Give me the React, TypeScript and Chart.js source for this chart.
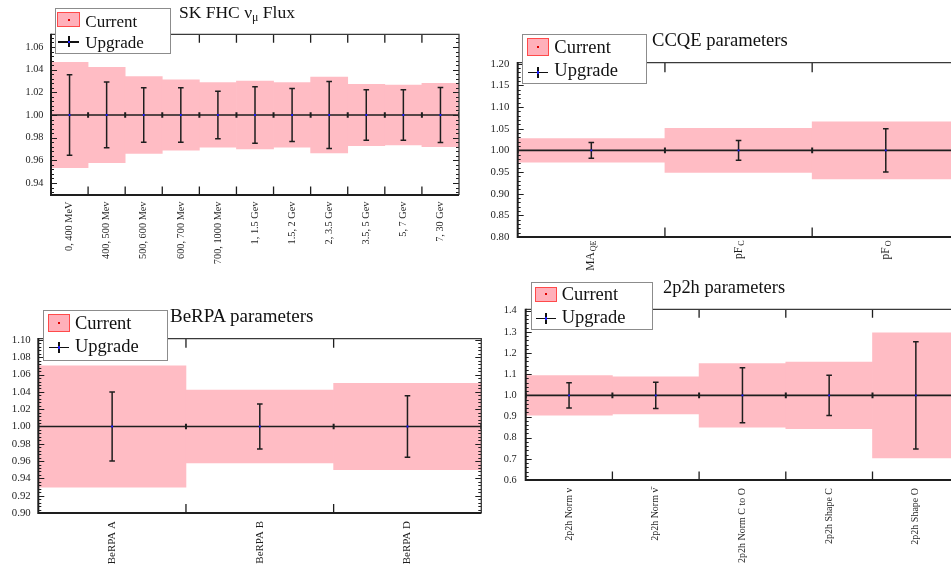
import React, { useEffect, useRef } from "react";
import { Chart, registerables } from "chart.js";

Chart.register(...registerables);

const FONT = "'Liberation Serif', 'Times New Roman', serif";
const PINK = "#ffbcc4";
const INK = "#1e1e1e";
const BLUE = "#1a1aff";

// ---- SK FHC numu flux ----
const fluxLabels = ["0, 400 MeV", "400, 500 Mev", "500, 600 Mev", "600, 700 Mev", "700, 1000 Mev", "1, 1.5 Gev", "1.5, 2 Gev", "2, 3.5 Gev", "3.5, 5 Gev", "5, 7 Gev", "7, 30 Gev"];
const fluxNominal = [1, 1, 1, 1, 1, 1, 1, 1, 1, 1, 1];
const fluxCurrent = [0.0465, 0.042, 0.034, 0.031, 0.0285, 0.030, 0.0285, 0.0335, 0.027, 0.0265, 0.028];
const fluxUpgrade = [0.0355, 0.029, 0.024, 0.024, 0.021, 0.025, 0.0233, 0.0295, 0.0222, 0.0222, 0.0243];

// ---- CCQE ----
const ccqeLabels = ["MA", "pF", "pF"];
const ccqeSubs = ["QE", "C", "O"];
const ccqeNominal = [1, 1, 1];
const ccqeCurrent = [0.027, 0.051, 0.066];
const ccqeUpgrade = [0.018, 0.023, 0.05];

// ---- BeRPA ----
const berpaLabels = ["BeRPA A", "BeRPA B", "BeRPA D"];
const berpaNominal = [1, 1, 1];
const berpaCurrent = [0.07, 0.042, 0.05];
const berpaUpgrade = [0.04, 0.026, 0.0355];

// ---- 2p2h ----
const npnhLabels = ["2p2h Norm \u03bd", "2p2h Norm \u03bd\u0304", "2p2h Norm C to O", "2p2h Shape C", "2p2h Shape O"];
const npnhNominal = [1, 1, 1, 1, 1];
const npnhCurrent = [0.094, 0.088, 0.15, 0.157, 0.296];
const npnhUpgrade = [0.06, 0.062, 0.13, 0.095, 0.253];

type Layout = {
  box: [number, number, number, number];
  area: [number, number, number, number];
  yRange: [number, number];
  yStep: number;
  yMinor: number;
  yDec: number;
  yFont: number;
  yPad: number;
  xFont: number;
  xPad: number;
  xTick: number;
};

const L1: Layout = { box: [0, 0, 470, 275], area: [51, 34.3, 459, 195], yRange: [0.9294, 1.0712], yStep: 0.02, yMinor: 5, yDec: 2, yFont: 10.3, yPad: 7.5, xFont: 10.3, xPad: 6.5, xTick: 8.5 };
const L2: Layout = { box: [470, 20, 500, 260], area: [517.7, 62.7, 959.4, 237], yRange: [0.8, 1.2023], yStep: 0.05, yMinor: 5, yDec: 2, yFont: 10.8, yPad: 8.3, xFont: 11.5, xPad: 3.5, xTick: 9.5 };
const L3: Layout = { box: [0, 295, 490, 277], area: [38.3, 338.7, 481.3, 513], yRange: [0.9, 1.1015], yStep: 0.02, yMinor: 5, yDec: 2, yFont: 10.8, yPad: 7.6, xFont: 11, xPad: 8, xTick: 9 };
const L4: Layout = { box: [480, 275, 490, 297], area: [525.7, 309.3, 959.2, 480], yRange: [0.6, 1.4066], yStep: 0.1, yMinor: 5, yDec: 1, yFont: 10.3, yPad: 9, xFont: 10, xPad: 8, xTick: 8.5 };

type PanelProps = {
  layout: Layout;
  labels: string[];
  subs?: string[];
  nominal: number[];
  current: number[];
  upgrade: number[];
};

function Panel({ layout, labels, subs, nominal, current, upgrade }: PanelProps) {
  const ref = useRef<HTMLCanvasElement>(null);
  useEffect(() => {
    if (!ref.current) return;
    const [bl, bt, bw, bh] = layout.box;
    const [L, T, R, B] = layout.area;
    const n = labels.length;
    const centers = labels.map((_, i) => i + 0.5);
    const edges = Array.from({ length: n + 1 }, (_, i) => i);

    const framePlugin = {
      id: "rootFrame",
      afterDatasetsDraw(chart: any) {
        const ctx = chart.ctx as CanvasRenderingContext2D;
        const a = chart.chartArea;
        const ys = chart.scales.y;
        const xs = chart.scales.x;
        ctx.save();
        ctx.strokeStyle = INK;
        ctx.lineWidth = 1;
        const [ymin, ymax] = layout.yRange;
        const minorStep = layout.yStep / layout.yMinor;
        const k0 = Math.ceil(ymin / minorStep - 1e-6);
        const k1 = Math.floor(ymax / minorStep + 1e-6);
        for (let k = k0; k <= k1; k++) {
          const py = Math.round(ys.getPixelForValue(k * minorStep)) + 0.5;
          const len = k % layout.yMinor === 0 ? 6 : 3;
          ctx.beginPath();
          ctx.moveTo(a.left, py);
          ctx.lineTo(a.left + len, py);
          ctx.moveTo(a.right, py);
          ctx.lineTo(a.right - len, py);
          ctx.stroke();
        }
        ctx.lineWidth = 1.3;
        for (const e of edges.slice(1, -1)) {
          const px = xs.getPixelForValue(e);
          ctx.beginPath();
          ctx.moveTo(px, a.bottom);
          ctx.lineTo(px, a.bottom - layout.xTick);
          ctx.moveTo(px, a.top);
          ctx.lineTo(px, a.top + layout.xTick);
          ctx.stroke();
        }
        ctx.strokeStyle = "#3a3a3a";
        ctx.lineWidth = 1.3;
        ctx.beginPath();
        ctx.moveTo(a.left, a.top);
        ctx.lineTo(a.right, a.top);
        ctx.lineTo(a.right, a.bottom);
        ctx.stroke();
        ctx.strokeStyle = INK;
        ctx.lineWidth = 2;
        ctx.beginPath();
        ctx.moveTo(a.left, a.top - 0.6);
        ctx.lineTo(a.left, a.bottom);
        ctx.lineTo(a.right, a.bottom);
        ctx.stroke();
        ctx.restore();
      },
      afterDraw(chart: any) {
        if (!subs) return;
        const ctx = chart.ctx as CanvasRenderingContext2D;
        const a = chart.chartArea;
        const xs = chart.scales.x;
        ctx.save();
        ctx.fillStyle = INK;
        const mainFont = `${layout.xFont}px ${FONT}`;
        const subFont = `${layout.xFont * 0.7}px ${FONT}`;
        centers.forEach((c, i) => {
          const px = xs.getPixelForValue(c);
          ctx.save();
          ctx.translate(px, a.bottom + layout.xPad);
          ctx.rotate(-Math.PI / 2);
          ctx.textAlign = "right";
          ctx.textBaseline = "middle";
          ctx.font = subFont;
          const ws = ctx.measureText(subs[i]).width + 1;
          ctx.fillText(subs[i], 0, 3);
          ctx.font = mainFont;
          ctx.fillText(labels[i], -ws, 0);
          ctx.restore();
        });
        ctx.restore();
      },
    };

    const chart = new Chart(ref.current, {
      type: "bar",
      data: {
        datasets: [
          {
            type: "bar",
            label: "Current",
            data: centers.map((c, i) => ({ x: c, y: [nominal[i] - current[i], nominal[i] + current[i]] })) as any,
            backgroundColor: PINK,
            borderWidth: 0,
            barPercentage: 1,
            categoryPercentage: 1,
            order: 5,
          } as any,
          {
            type: "line",
            label: "nominal",
            data: nominal.flatMap((v, i) => [{ x: i, y: v }, { x: i + 1, y: v }]),
            borderColor: INK,
            borderWidth: 1.6,
            pointRadius: 0,
            order: 4,
          },
          {
            type: "line",
            label: "Upgrade",
            data: centers.flatMap((c, i) => [
              { x: c, y: nominal[i] - upgrade[i] },
              { x: c, y: nominal[i] + upgrade[i] },
              { x: c, y: null },
            ]) as any,
            spanGaps: false,
            borderColor: INK,
            borderWidth: 1.5,
            pointStyle: "line",
            pointRadius: 2.8,
            pointBorderColor: INK,
            pointBorderWidth: 1.5,
            order: 3,
          },
          {
            type: "scatter",
            label: "edges",
            data: edges.map((e) => ({ x: e, y: nominal[Math.min(e, n - 1)] })),
            pointStyle: "line",
            rotation: 90,
            pointRadius: 2.8,
            borderColor: INK,
            pointBorderColor: INK,
            pointBorderWidth: 2,
            order: 2,
          } as any,
          {
            type: "scatter",
            label: "markers",
            data: centers.map((c, i) => ({ x: c, y: nominal[i] })),
            pointStyle: "rect",
            pointRadius: 1.3,
            pointBackgroundColor: BLUE,
            pointBorderColor: BLUE,
            pointBorderWidth: 0,
            order: 1,
          } as any,
        ],
      },
      options: {
        responsive: false,
        animation: false,
        events: [],
        layout: { padding: { left: 0, top: T - bt, right: bl + bw - R, bottom: 0 } },
        plugins: { legend: { display: false }, title: { display: false }, tooltip: { enabled: false } },
        scales: {
          x: {
            type: "linear",
            min: 0,
            max: n,
            offset: false,
            grid: { display: false, drawTicks: false, tickLength: 0 },
            border: { display: false },
            afterBuildTicks: (s: any) => {
              s.ticks = centers.map((v) => ({ value: v }));
            },
            afterFit: (s: any) => {
              s.height = bt + bh - B;
            },
            ticks: {
              display: !subs,
              autoSkip: false,
              minRotation: 90,
              maxRotation: 90,
              padding: layout.xPad,
              color: INK,
              font: { family: FONT, size: layout.xFont },
              callback: (_v: any, i: number) => labels[i],
            },
          } as any,
          y: {
            type: "linear",
            min: layout.yRange[0],
            max: layout.yRange[1],
            beginAtZero: false,
            grid: { display: false, drawTicks: false, tickLength: 0 },
            border: { display: false },
            afterFit: (s: any) => {
              s.width = L - bl;
            },
            ticks: {
              stepSize: layout.yStep,
              includeBounds: false,
              autoSkip: false,
              padding: layout.yPad,
              color: INK,
              font: { family: FONT, size: layout.yFont },
              callback: (v: any) => Number(v).toFixed(layout.yDec),
            },
          } as any,
        },
      },
      plugins: [framePlugin],
    });
    return () => chart.destroy();
  }, []);
  const [bl, bt, bw, bh] = layout.box;
  return <canvas ref={ref} width={bw} height={bh} style={{ position: "absolute", left: bl, top: bt }} />;
}

type LegendCfg = {
  box: [number, number, number, number];
  fs: number;
  iconX: number;
  iconY: number;
  iconW: number;
  iconH: number;
  textX: number;
  base1: number;
  base2: number;
  lineY: number;
};

function Legend({ c }: { c: LegendCfg }) {
  const [x, y, w, h] = c.box;
  const top = (b: number) => b - 0.84 * c.fs;
  const cx = c.iconX + c.iconW / 2;
  const text: React.CSSProperties = { position: "absolute", left: c.textX, fontFamily: FONT, fontSize: c.fs, lineHeight: `${c.fs}px`, color: "#111", whiteSpace: "nowrap" };
  return (
    <div style={{ position: "absolute", left: x, top: y, width: w, height: h, border: "1px solid #8c8c8c", background: "#fff", boxSizing: "border-box" }}>
      <div style={{ position: "absolute", left: c.iconX - 1, top: c.iconY - 1, width: c.iconW, height: c.iconH, background: "#ffb0ba", border: "1.3px solid #ff4a4a", boxSizing: "border-box" }} />
      <div style={{ position: "absolute", left: cx - 2, top: c.iconY - 1 + c.iconH / 2 - 1, width: 2, height: 2, background: "#e00000" }} />
      <div style={{ ...text, top: top(c.base1) - 1 }}>Current</div>
      <div style={{ position: "absolute", left: c.iconX, top: c.lineY - 1.75, width: c.iconW - 2, height: 1.5, background: "#111" }} />
      <div style={{ position: "absolute", left: cx - 1.75, top: c.lineY - 6.5, width: 1.5, height: 11, background: "#111" }} />
      <div style={{ position: "absolute", left: cx - 2.25, top: c.lineY - 2.25, width: 2.5, height: 2.5, background: BLUE }} />
      <div style={{ ...text, top: top(c.base2) - 1 }}>Upgrade</div>
    </div>
  );
}

const legend1: LegendCfg = { box: [55, 8.3, 116, 46], fs: 17, iconX: 2.3, iconY: 3.7, iconW: 23, iconH: 15.5, textX: 29.3, base1: 18.5, base2: 40, lineY: 33.5 };
const legend2: LegendCfg = { box: [522.3, 34.3, 125, 50], fs: 18.5, iconX: 4.4, iconY: 4, iconW: 22.6, iconH: 17.4, textX: 31, base1: 19, base2: 42.4, lineY: 38 };
const legend3: LegendCfg = { box: [43.3, 310, 125, 50.7], fs: 18.5, iconX: 4.4, iconY: 4.3, iconW: 22.3, iconH: 17.4, textX: 30.7, base1: 20, base2: 42.7, lineY: 37.7 };
const legend4: LegendCfg = { box: [530.7, 282.3, 122, 47.7], fs: 18.5, iconX: 4.3, iconY: 4.4, iconW: 22.3, iconH: 15.6, textX: 30, base1: 18.7, base2: 41, lineY: 36 };

function Title({ x, baseline, fs, children }: { x: number; baseline: number; fs: number; children: React.ReactNode }) {
  return (
    <div style={{ position: "absolute", left: x, top: baseline - 0.84 * fs, fontFamily: FONT, fontSize: fs, lineHeight: `${fs}px`, color: "#111", whiteSpace: "nowrap" }}>
      {children}
    </div>
  );
}

export default function App() {
  return (
    <div style={{ position: "absolute", left: 0, top: 0, width: 951, height: 572, overflow: "hidden", background: "#fff" }}>
      <Panel layout={L1} labels={fluxLabels} nominal={fluxNominal} current={fluxCurrent} upgrade={fluxUpgrade} />
      <Panel layout={L2} labels={ccqeLabels} subs={ccqeSubs} nominal={ccqeNominal} current={ccqeCurrent} upgrade={ccqeUpgrade} />
      <Panel layout={L3} labels={berpaLabels} nominal={berpaNominal} current={berpaCurrent} upgrade={berpaUpgrade} />
      <Panel layout={L4} labels={npnhLabels} nominal={npnhNominal} current={npnhCurrent} upgrade={npnhUpgrade} />
      <Title x={179} baseline={18.3} fs={17.5}>
        SK FHC {"\u03bd"}
        <span style={{ fontSize: "0.68em", position: "relative", top: "0.3em", lineHeight: 0 }}>{"\u03bc"}</span> Flux
      </Title>
      <Title x={652} baseline={46.7} fs={18.6}>CCQE parameters</Title>
      <Title x={170} baseline={321.7} fs={19}>BeRPA parameters</Title>
      <Title x={663} baseline={293.3} fs={18.4}>2p2h parameters</Title>
      <Legend c={legend1} />
      <Legend c={legend2} />
      <Legend c={legend3} />
      <Legend c={legend4} />
    </div>
  );
}
